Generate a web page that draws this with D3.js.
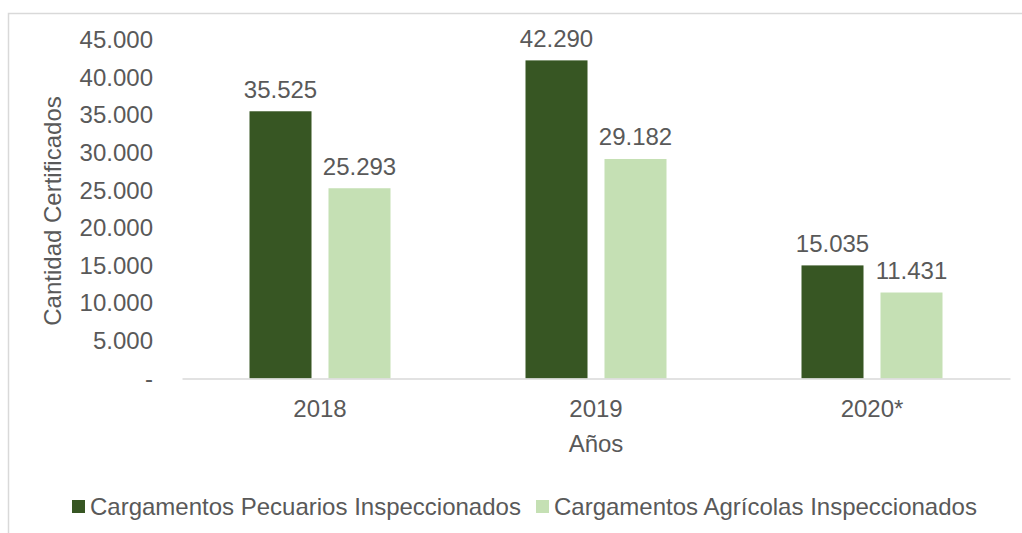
<!DOCTYPE html>
<html><head><meta charset="utf-8">
<script src="https://cdn.jsdelivr.net/npm/d3@7"></script>
<style>body{margin:0;background:#fff}svg{display:block}text{font-family:"Liberation Sans",Arial,sans-serif;fill:#595959}</style>
</head><body>
<script>
const categories = ["2018", "2019", "2020*"];
const seriesNames = ["Cargamentos Pecuarios Inspeccionados", "Cargamentos Agrícolas Inspeccionados"];
const pecuarios = [35525, 42290, 15035];
const agricolas = [25293, 29182, 11431];
const yTicks = [0, 5000, 10000, 15000, 20000, 25000, 30000, 35000, 40000, 45000];
const colors = ["#375623", "#c5e0b4"];
const seriesValues = [pecuarios, agricolas];

const W = 1022, H = 533, FS = "24px";
const svg = d3.select("body").append("svg").attr("width", W).attr("height", H);
// outer chart border (cropped at right/bottom)
svg.append("rect").attr("x", 8.5).attr("y", 13.5).attr("width", 1040).attr("height", 560)
  .attr("fill", "none").attr("stroke", "#d9d9d9").attr("stroke-width", 1.5);

const x0 = d3.scaleBand().domain(categories).range([182, 1010]).padding(0);
const x1 = d3.scaleBand().domain([0, 1]).range([67.5, 208.5]).paddingInner(0.215).paddingOuter(0);
const y = d3.scaleLinear().domain([0, 45000]).range([378.5, 40]);
const fmt = v => v === 0 ? "-" : d3.format(",")(v).replace(/,/g, ".");

// y axis labels
const yAxis = d3.axisLeft(y).tickValues(yTicks).tickFormat(fmt).tickSize(0).tickPadding(0);
const gy = svg.append("g").attr("transform", "translate(153,0)").call(yAxis);
gy.select(".domain").remove();
gy.selectAll("text").style("font-size", FS).attr("fill", "#595959").attr("font-family", null);

// bars
const groups = svg.append("g").selectAll("g").data(categories).join("g")
  .attr("transform", d => `translate(${x0(d)},0)`);
groups.selectAll("rect").data((d, i) => seriesValues.map((s, k) => ({k, v: s[i]}))).join("rect")
  .attr("x", d => x1(d.k)).attr("width", x1.bandwidth())
  .attr("y", d => y(d.v)).attr("height", d => y(0) - y(d.v))
  .attr("fill", d => colors[d.k]);
groups.selectAll("text").data((d, i) => seriesValues.map((s, k) => ({k, v: s[i]}))).join("text")
  .attr("x", d => x1(d.k) + x1.bandwidth() / 2).attr("y", d => y(d.v) - 22)
  .attr("text-anchor", "middle").attr("dominant-baseline", "central")
  .style("font-size", FS).text(d => fmt(d.v));

// x axis
const xAxis = d3.axisBottom(x0).tickSize(0).tickPadding(0);
const gx = svg.append("g").attr("transform", `translate(0,${y(0)})`).call(xAxis);
gx.select(".domain").attr("stroke", "#d9d9d9").attr("stroke-width", 1.5);
gx.selectAll("text").style("font-size", FS).attr("fill", "#595959").attr("font-family", null)
  .attr("dy", null).attr("y", 30).attr("dominant-baseline", "central");

// axis titles
svg.append("text").attr("transform", "translate(52,211) rotate(-90)").attr("text-anchor", "middle")
  .attr("dominant-baseline", "central").style("font-size", FS).text("Cantidad Certificados");
svg.append("text").attr("x", 596).attr("y", 443).attr("text-anchor", "middle")
  .attr("dominant-baseline", "central").style("font-size", FS).text("Años");

// legend
const legendX = [72, 536];
const lg = svg.append("g").selectAll("g").data(seriesNames).join("g")
  .attr("transform", (d, i) => `translate(${legendX[i]},500)`);
lg.append("rect").attr("width", 13).attr("height", 13).attr("fill", (d, i) => colors[i]);
lg.append("text").attr("x", 18).attr("y", 6.5).attr("dominant-baseline", "central")
  .style("font-size", FS).text(d => d);
</script>
</body></html>
